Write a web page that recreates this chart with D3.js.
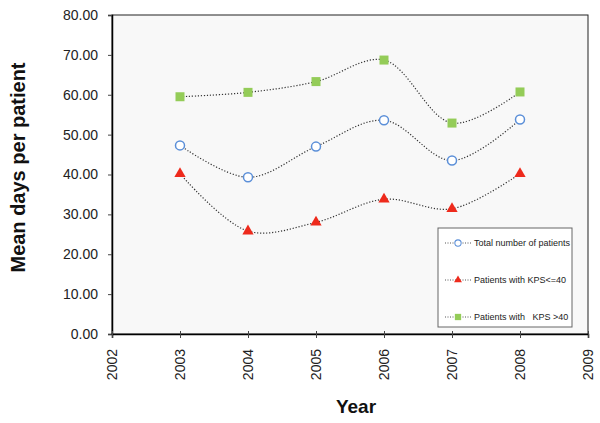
<!DOCTYPE html>
<html><head><meta charset="utf-8">
<script src="https://cdn.jsdelivr.net/npm/d3@7"></script>
<style>body{margin:0;background:#fff;} text{font-family:"Liberation Sans",Arial,sans-serif;}</style>
</head><body><svg id="c" width="600" height="423"></svg>
<script>
const years = [2003, 2004, 2005, 2006, 2007, 2008];
const totalPatients = [47.3, 39.3, 47.0, 53.6, 43.5, 53.8];
const kpsLow = [40.2, 25.8, 28.0, 33.8, 31.4, 40.2];
const kpsHigh = [59.5, 60.6, 63.3, 68.7, 52.9, 60.7];
const xTicks = [2002, 2003, 2004, 2005, 2006, 2007, 2008, 2009];
const yTicks = [0, 10, 20, 30, 40, 50, 60, 70, 80];
const seriesNames = ["Total number of patients", "Patients with KPS<=40", "Patients with   KPS >40"];

const svg = d3.select("#c");
const L = 112, R = 588, T = 15, B = 334;
const x = d3.scaleLinear().domain([2002, 2009]).range([L, R]);
const y = d3.scaleLinear().domain([0, 80]).range([B, T]);

svg.append("rect").attr("x", L).attr("y", T).attr("width", R - L).attr("height", B - T)
  .attr("fill", "#f8f8f8").attr("stroke", "#222").attr("stroke-width", 1);

// axes
const yAxis = svg.append("g").attr("transform", `translate(${L},0)`)
  .call(d3.axisLeft(y).tickValues(yTicks).tickSize(4).tickPadding(10).tickFormat(d3.format(".2f")));
yAxis.select(".domain").attr("stroke", "#000").attr("stroke-width", 1.5);
yAxis.selectAll("text").attr("font-size", 14).attr("fill", "#222");
yAxis.selectAll(".tick line").attr("stroke", "#444");

const xAxis = svg.append("g").attr("transform", `translate(0,${B})`)
  .call(d3.axisBottom(x).tickValues(xTicks).tickSize(4).tickFormat(d3.format("d")));
xAxis.select(".domain").attr("stroke", "#000").attr("stroke-width", 1.5);
xAxis.selectAll(".tick line").attr("stroke", "#444").attr("y1", -3);
xAxis.selectAll("text").attr("font-size", 14).attr("fill", "#222")
  .attr("transform", "rotate(-90)").attr("text-anchor", "end")
  .attr("x", -15).attr("y", 0).attr("dy", "0.35em");

// titles
svg.append("text").attr("transform", "translate(25,167.5) rotate(-90)").attr("text-anchor", "middle")
  .attr("font-size", 20).attr("font-weight", "bold").attr("fill", "#111").text("Mean days per patient");
svg.append("text").attr("x", 356).attr("y", 413).attr("text-anchor", "middle")
  .attr("font-size", 19).attr("font-weight", "bold").attr("fill", "#111").text("Year");

const line = d3.line().x((d, i) => x(years[i])).y(d => y(d)).curve(d3.curveCatmullRom.alpha(0.5));
const allSeries = [totalPatients, kpsLow, kpsHigh];
allSeries.forEach(s => {
  svg.append("path").attr("d", line(s)).attr("fill", "none").attr("stroke", "#333")
    .attr("stroke-width", 1.2).attr("stroke-dasharray", "1.2,1.8");
});

function marker(g, type, cx, cy) {
  if (type === 0) g.append("circle").attr("cx", cx).attr("cy", cy).attr("r", 4.5)
    .attr("fill", "#fff").attr("stroke", "#5b8fd8").attr("stroke-width", 1.5);
  else if (type === 1) g.append("path")
    .attr("d", d3.symbol(d3.symbolTriangle, 55)())
    .attr("transform", `translate(${cx},${cy})`).attr("fill", "#ee2a1c");
  else g.append("rect").attr("x", cx - 4.5).attr("y", cy - 4.5).attr("width", 9).attr("height", 9)
    .attr("fill", "#94cc58");
}
allSeries.forEach((s, k) => {
  s.forEach((v, i) => marker(svg, k, x(years[i]), y(v)));
});

// legend
const lg = svg.append("g");
lg.append("rect").attr("x", 438).attr("y", 228).attr("width", 134).attr("height", 99)
  .attr("fill", "#fff").attr("stroke", "#666").attr("stroke-width", 1);
const ly = [243, 280, 317];
seriesNames.forEach((n, k) => {
  lg.append("line").attr("x1", 445).attr("x2", 471).attr("y1", ly[k]).attr("y2", ly[k])
    .attr("stroke", "#555").attr("stroke-width", 1).attr("stroke-dasharray", "1,1.5");
  const g = lg.append("g").attr("transform", `translate(${458},${ly[k]}) scale(0.7)`);
  marker(g, k, 0, 0);
  lg.append("text").attr("x", 474).attr("y", ly[k]).attr("dy", "0.35em").attr("font-size", 9)
    .attr("fill", "#222").style("white-space", "pre").text(n);
});
</script></body></html>
